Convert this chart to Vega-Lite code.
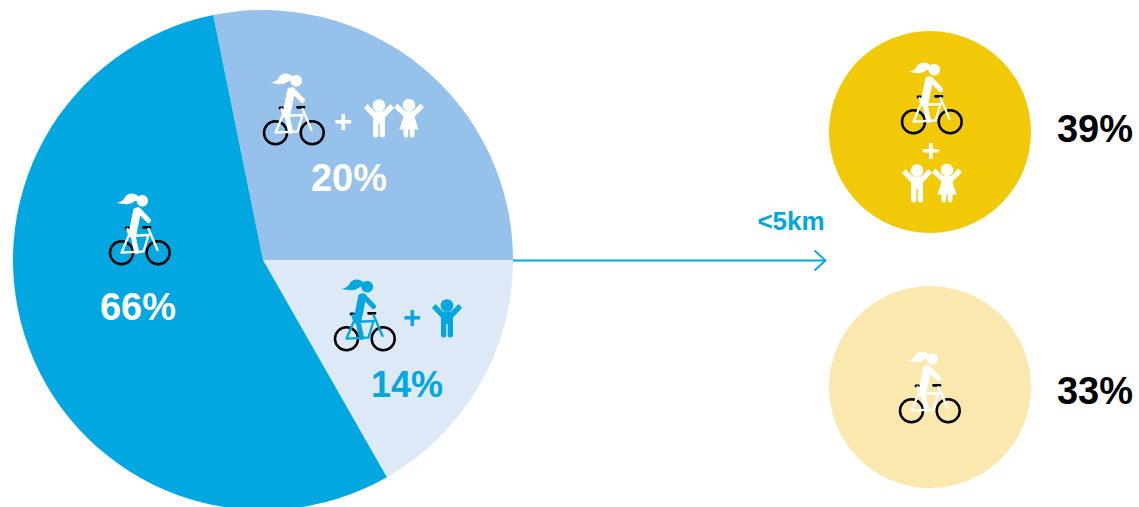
{
  "$schema": "https://vega.github.io/schema/vega-lite/v6.json",
  "width": 1139,
  "height": 507,
  "padding": 0,
  "autosize": {"type": "none"},
  "background": "white",
  "config": {
    "view": {"stroke": null},
    "text": {"font": "Liberation Sans", "fontWeight": "bold", "align": "center", "baseline": "middle"},
    "point": {"opacity": 1}
  },
  "datasets": {
    "slices": [
      {"group": "Parent and two children", "share": 0.20, "rank": 1, "on": "mid slice", "spot": 0, "label_spot": 7},
      {"group": "Parent and one child", "share": 0.14, "rank": 2, "on": "pale slice", "spot": 0, "label_spot": 8},
      {"group": "Parent alone", "share": 0.66, "rank": 3, "on": "blue slice", "spot": 0, "label_spot": 6}
    ],
    "trips": [
      {"group": "Parent and children, under 5 km", "share": 0.39, "on": "gold circle", "spot": 9, "label_spot": 11},
      {"group": "Parent alone, under 5 km", "share": 0.33, "on": "cream circle", "spot": 10, "label_spot": 12}
    ],
    "pictures": [
      {"picture": "rider", "on": "blue slice", "spot": 1},
      {"picture": "rider", "on": "mid slice", "spot": 2},
      {"picture": "rider", "on": "pale slice", "spot": 3},
      {"picture": "rider", "on": "gold circle", "spot": 4},
      {"picture": "rider", "on": "cream circle", "spot": 5},
      {"picture": "boy", "on": "mid slice", "spot": 13},
      {"picture": "girl", "on": "mid slice", "spot": 14},
      {"picture": "boy", "on": "pale slice", "spot": 15},
      {"picture": "boy", "on": "gold circle", "spot": 16},
      {"picture": "girl", "on": "gold circle", "spot": 17}
    ],
    "notes": [
      {"note": "+", "on": "mid slice", "spot": 18, "size": "plus"},
      {"note": "+", "on": "pale slice", "spot": 19, "size": "plus"},
      {"note": "+", "on": "gold circle", "spot": 20, "size": "plus"},
      {"note": "<5km", "on": "arrow", "spot": 21, "size": "distance"}
    ],
    "arrow": [{"spot": 22, "spot_end": 23, "on": "arrow"}]
  },
  "encoding": {
    "x": {
      "field": "spot", "type": "quantitative", "axis": null,
      "scale": {
        "domain": [0,1,2,3,4,5,6,7,8,9,10,11,12,13,14,15,16,17,18,19,20,21,22,23],
        "range": [263,139.5,293.5,364.5,931.5,929.5,138,349,407,930,930,1095,1095,379,409,447,917,947,343,412,931,791,513,825.5]
      }
    },
    "y": {
      "field": "spot", "type": "quantitative", "axis": null,
      "scale": {
        "domain": [0,1,2,3,4,5,6,7,8,9,10,11,12,13,14,15,16,17,18,19,20,21,22,23],
        "range": [260,230,110,316,99,388,309,180,386,132,387,131,393,118,118,318,183,183,123,319,152,222,260.5,260.5]
      }
    }
  },
  "layer": [
    {
      "data": {"name": "slices"},
      "transform": [
        {"stack": "share", "sort": [{"field": "rank", "order": "ascending"}], "as": ["from", "to"]}
      ],
      "mark": {"type": "arc", "outerRadius": 250},
      "encoding": {
        "theta": {
          "field": "from", "type": "quantitative",
          "scale": {"domain": [0, 0.2, 0.34, 1], "range": [-0.2007, 1.5708, 2.623, 6.0825]}
        },
        "theta2": {"field": "to"},
        "fill": {"field": "on", "type": "nominal", "legend": null,
          "scale": {
            "domain": ["blue slice", "mid slice", "pale slice", "gold circle", "cream circle"],
            "range": ["#00A7E1", "#95C1EB", "#DEE9F8", "#F1C907", "#FAE8AF"]
          }
        }
      }
    },
    {
      "data": {"name": "trips"},
      "mark": {"type": "point", "shape": "circle", "filled": true, "size": 40804},
      "encoding": {"fill": {"field": "on", "type": "nominal", "legend": null}}
    },
    {
      "data": {"name": "arrow"},
      "mark": {"type": "rule", "strokeWidth": 1.8, "color": "#00A7E1"},
      "encoding": {"x2": {"field": "spot_end"}}
    },
    {
      "data": {"name": "arrow"},
      "transform": [{"fold": ["spot_end"], "as": ["end", "tip"]}],
      "mark": {"type": "point", "filled": false, "size": 4, "strokeWidth": 1.8, "color": "#00A7E1", "shape": "M-11,-10L0,0L-11,10"},
      "encoding": {
        "x": {"field": "tip", "type": "quantitative"},
        "y": {"field": "tip", "type": "quantitative"}
      }
    },
    {
      "data": {"name": "pictures"},
      "transform": [{"filter": "datum.picture === 'rider'"}],
      "mark": {"type": "point", "filled": false, "size": 4, "strokeWidth": 2.5, "color": "black",
        "shape": "M-29.5,22.7a11.5,11.5 0 1,0 23,0a11.5,11.5 0 1,0 -23,0ZM7.2,22.7a11.5,11.5 0 1,0 23,0a11.5,11.5 0 1,0 -23,0Z"}
    },
    {
      "data": {"name": "pictures"},
      "transform": [{"filter": "datum.picture === 'rider'"}],
      "mark": {"type": "point", "filled": false, "size": 4, "strokeWidth": 2.8, "color": "black", "strokeCap": "round",
        "shape": "M4,-2.7L10.5,-2.7M-13.5,-2L-11,-2"}
    },
    {
      "data": {"name": "pictures"},
      "transform": [{"filter": "datum.picture === 'rider'"}],
      "mark": {"type": "point", "filled": false, "size": 4, "strokeWidth": 2.3, "strokeCap": "round", "strokeJoin": "round",
        "shape": "M-18,22.7L-11,6L9,5L4,21.5L-18,22.7M9,-1L18,20M-12,-1L-10,6"},
      "encoding": {"color": {"field": "on", "type": "nominal", "legend": null,
        "scale": {
          "domain": ["blue slice", "mid slice", "pale slice", "gold circle", "cream circle", "page", "arrow"],
          "range": ["white", "white", "#00A7E1", "white", "white", "black", "#00A7E1"]
        }
      }}
    },
    {
      "data": {"name": "pictures"},
      "transform": [{"filter": "datum.picture === 'rider'"}],
      "mark": {"type": "point", "filled": false, "size": 4, "strokeWidth": 8, "strokeCap": "round", "strokeJoin": "round",
        "shape": "M-2.5,-18.5L-7,4"},
      "encoding": {"color": {"field": "on", "type": "nominal", "legend": null}}
    },
    {
      "data": {"name": "pictures"},
      "transform": [{"filter": "datum.picture === 'rider'"}],
      "mark": {"type": "point", "filled": false, "size": 4, "strokeWidth": 5, "strokeCap": "round", "strokeJoin": "round",
        "shape": "M-1,-20L9,-9.5M-7,3L-3,21.5"},
      "encoding": {"color": {"field": "on", "type": "nominal", "legend": null}}
    },
    {
      "data": {"name": "pictures"},
      "transform": [{"filter": "datum.picture === 'rider'"}],
      "mark": {"type": "point", "filled": true, "size": 4,
        "shape": "M-3,-29.3a5.8,5.8 0 1,0 11.6,0a5.8,5.8 0 1,0 -11.6,0ZM-1,-33.5C-6,-38.5 -13,-36.5 -15,-32C-17,-29 -19,-28 -22.5,-27.5C-17,-25.5 -10,-25 -7,-27.5C-4,-29.5 -2,-30 -1,-30Z"},
      "encoding": {"color": {"field": "on", "type": "nominal", "legend": null}}
    },
    {
      "data": {"name": "pictures"},
      "transform": [{"filter": "datum.picture === 'boy'"}],
      "mark": {"type": "point", "filled": true, "size": 4,
        "shape": "M-6.3,-12.5a6.3,6.3 0 1,0 12.6,0a6.3,6.3 0 1,0 -12.6,0ZM-15,-10L-11.5,-14L-4,-6.5L4,-6.5L11.5,-14L15,-10L6,-0.5L6,17Q6,19.5 3.3,19.5Q0.7,19.5 0.7,17L0.7,6L-0.7,6L-0.7,17Q-0.7,19.5 -3.3,19.5Q-6,19.5 -6,17L-6,-0.5Z"},
      "encoding": {"color": {"field": "on", "type": "nominal", "legend": null}}
    },
    {
      "data": {"name": "pictures"},
      "transform": [{"filter": "datum.picture === 'girl'"}],
      "mark": {"type": "point", "filled": true, "size": 4,
        "shape": "M-6.3,-13a6.3,6.3 0 1,0 12.6,0a6.3,6.3 0 1,0 -12.6,0ZM-15,-10.5L-11.5,-14.5L-4,-7L4,-7L11.5,-14.5L15,-10.5L5.5,-1.5L9.5,11.5L5.5,11.5L5.5,17Q5.5,19.5 3.2,19.5Q0.8,19.5 0.8,17L0.8,11.5L-0.8,11.5L-0.8,17Q-0.8,19.5 -3.2,19.5Q-5.5,19.5 -5.5,17L-5.5,11.5L-9.5,11.5L-5.5,-1.5Z"},
      "encoding": {"color": {"field": "on", "type": "nominal", "legend": null}}
    },
    {
      "data": {"name": "slices"},
      "transform": [{"filter": "datum.on !== 'pale slice'"}],
      "mark": {"type": "text", "fontSize": 38},
      "encoding": {
        "x": {"field": "label_spot", "type": "quantitative"},
        "y": {"field": "label_spot", "type": "quantitative"},
        "text": {"field": "share", "type": "quantitative", "format": ".0%"},
        "color": {"field": "on", "type": "nominal", "legend": null}
      }
    },
    {
      "data": {"name": "slices"},
      "transform": [{"filter": "datum.on === 'pale slice'"}],
      "mark": {"type": "text", "fontSize": 36},
      "encoding": {
        "x": {"field": "label_spot", "type": "quantitative"},
        "y": {"field": "label_spot", "type": "quantitative"},
        "text": {"field": "share", "type": "quantitative", "format": ".0%"},
        "color": {"field": "on", "type": "nominal", "legend": null}
      }
    },
    {
      "data": {"name": "trips"},
      "mark": {"type": "text", "fontSize": 38, "color": "black"},
      "encoding": {
        "x": {"field": "label_spot", "type": "quantitative"},
        "y": {"field": "label_spot", "type": "quantitative"},
        "text": {"field": "share", "type": "quantitative", "format": ".0%"}
      }
    },
    {
      "data": {"name": "notes"},
      "transform": [{"filter": "datum.size === 'plus'"}],
      "mark": {"type": "text", "fontSize": 31},
      "encoding": {
        "text": {"field": "note", "type": "nominal"},
        "color": {"field": "on", "type": "nominal", "legend": null}
      }
    },
    {
      "data": {"name": "notes"},
      "transform": [{"filter": "datum.size === 'distance'"}],
      "mark": {"type": "text", "fontSize": 26},
      "encoding": {
        "text": {"field": "note", "type": "nominal"},
        "color": {"field": "on", "type": "nominal", "legend": null}
      }
    }
  ]
}
